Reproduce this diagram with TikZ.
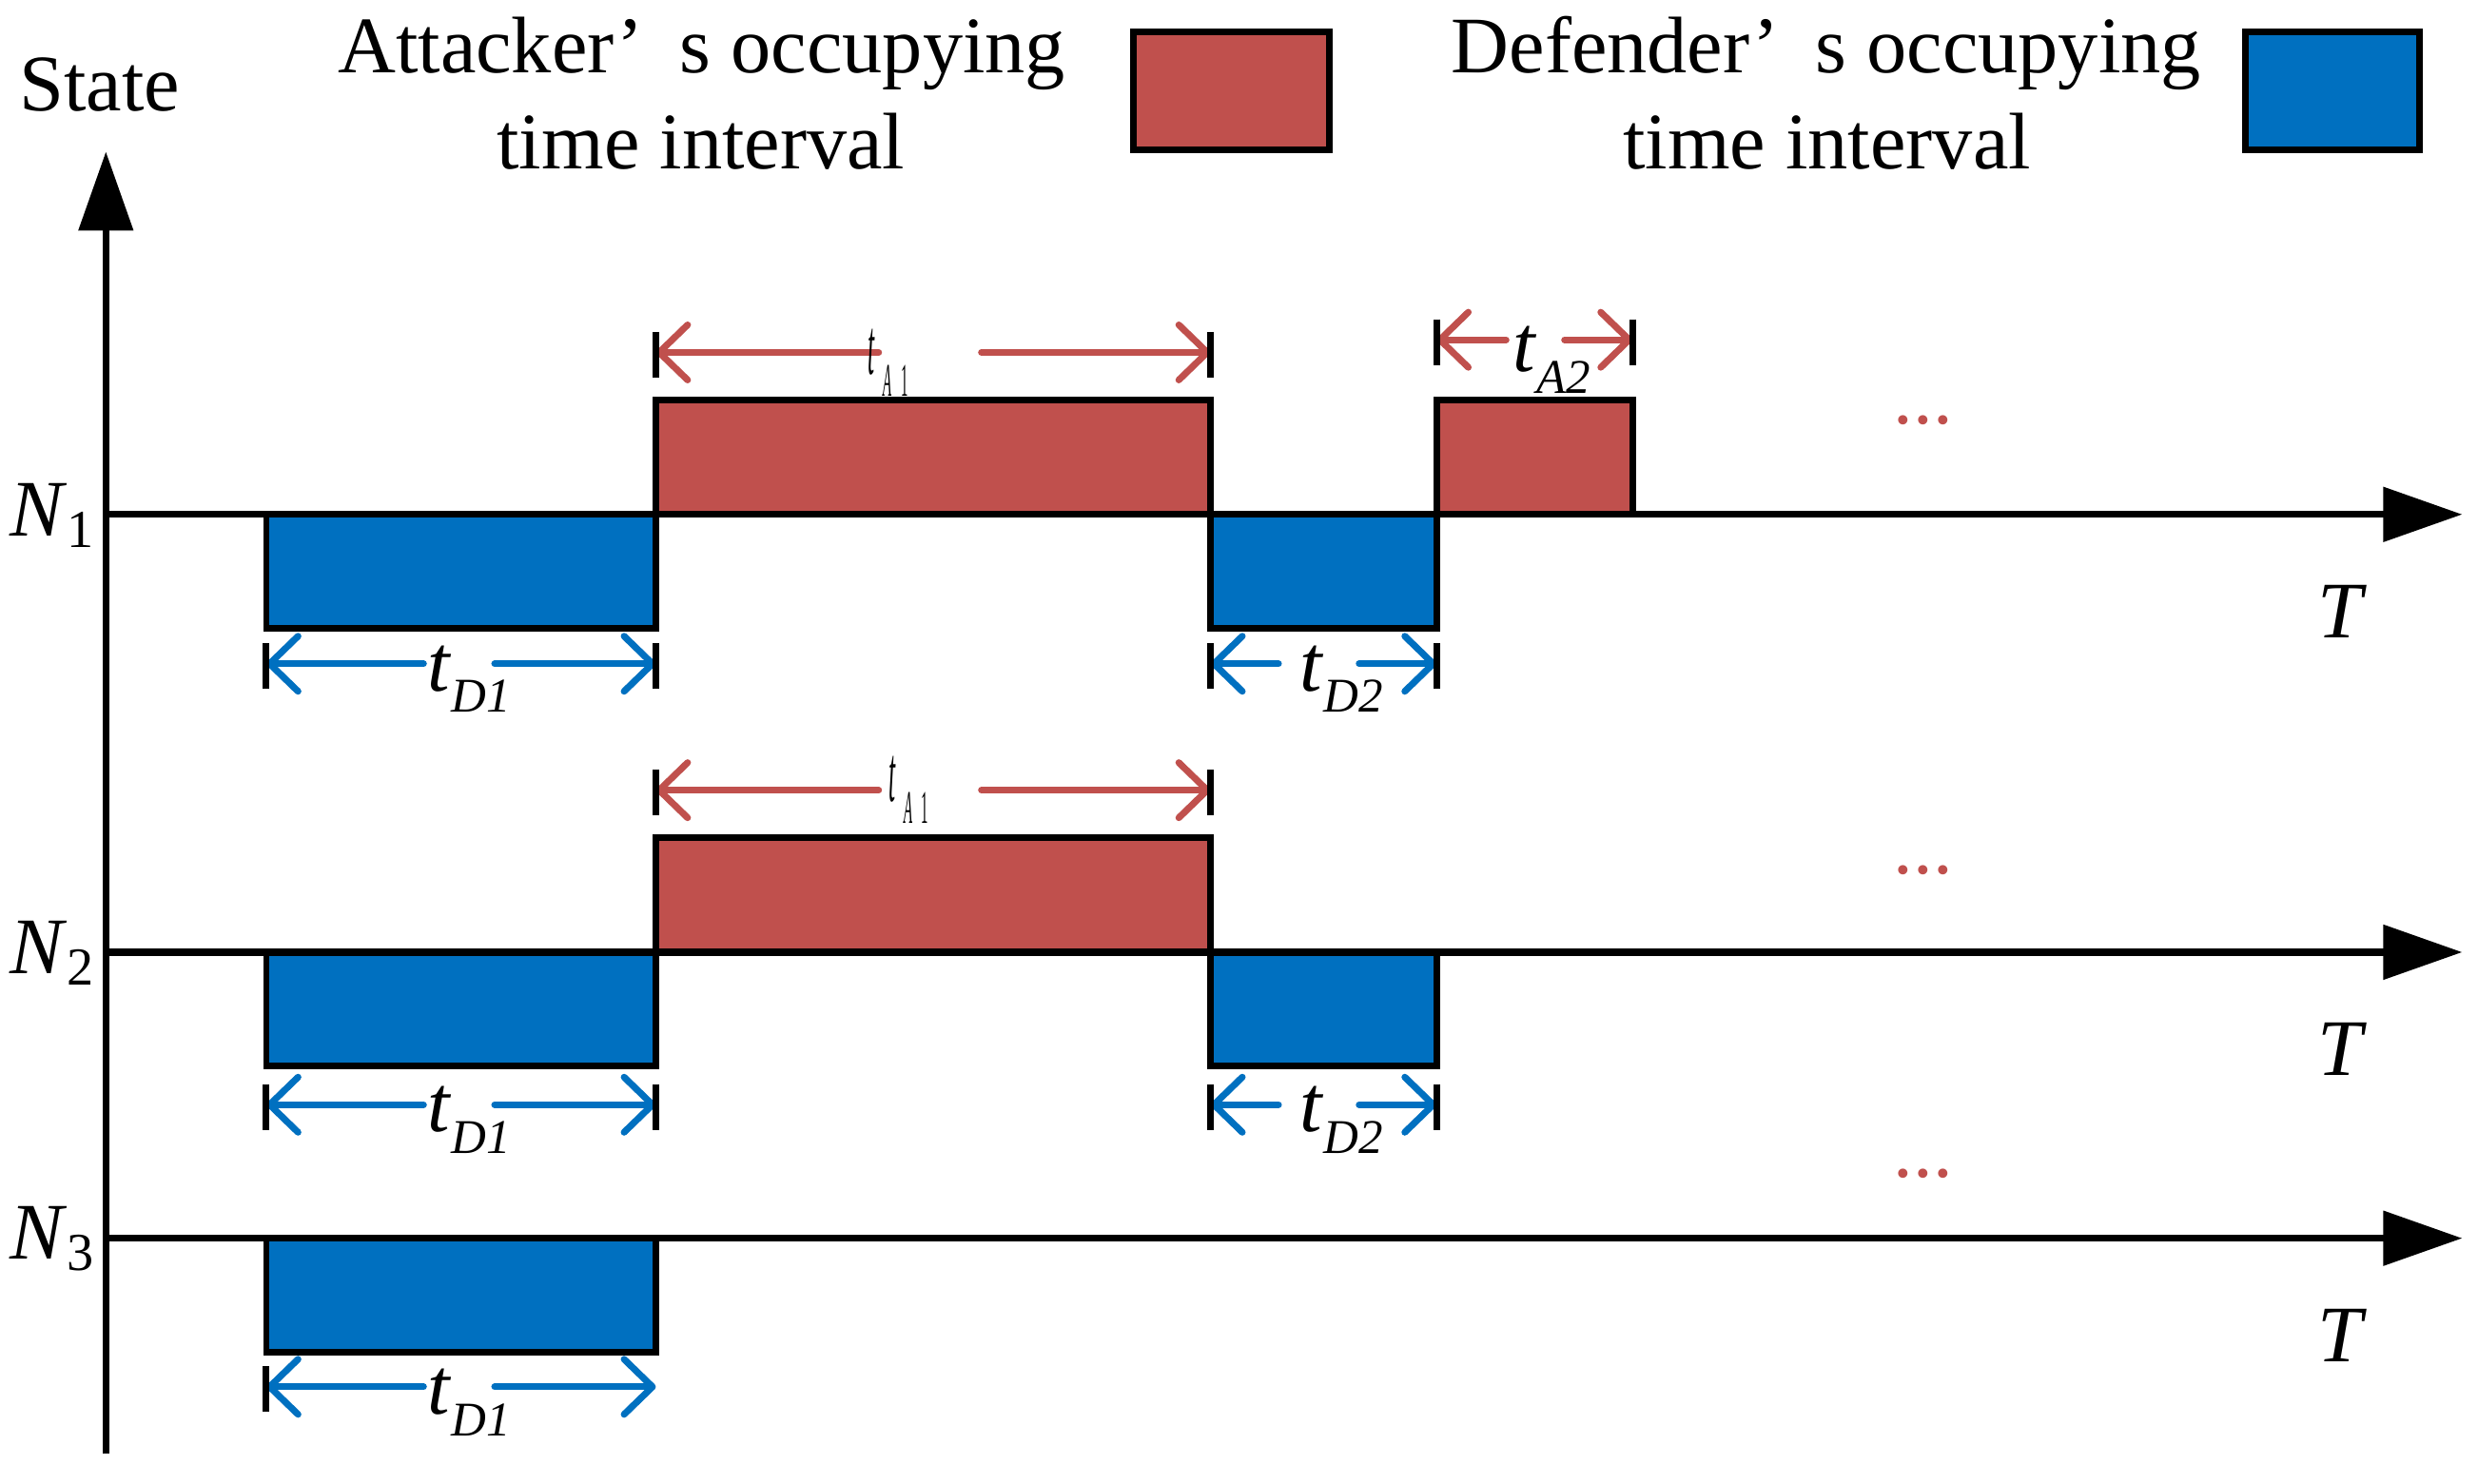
\documentclass[tikz,border=0pt]{standalone}
\usepackage{fontspec}
\setmainfont{Liberation Serif}
\usepackage{graphicx}
\usetikzlibrary{arrows.meta}
\definecolor{atk}{RGB}{192,80,77}
\definecolor{dfd}{RGB}{0,112,192}
\newcommand\tsub[1]{\textit{t}\raisebox{-6.5pt}{\fontsize{14.5}{14.5}\selectfont\textit{#1}}}
\newcommand\Nsub[1]{\textit{N}\raisebox{-3.5pt}{\fontsize{16}{16}\selectfont #1}}
\newcommand\tsq{\scalebox{0.3}[1]{\textit{t}\hspace{8pt}\raisebox{-6.5pt}{\fontsize{14}{14}\selectfont\textit{A}\hspace{9pt}1}}}
\newcommand\dimpair[7]{%
  \coordinate (#2L) at (#4,#3); \coordinate (#2R) at (#5,#3);
  \coordinate (#2a) at (#6,#3); \coordinate (#2b) at (#7,#3);
  \draw[#1] (#2a) -- (#2L); \draw[#1] (#2b) -- (#2R);}
\newcommand\tickmk[2]{\draw[endtick] (#1,#2-13) -- (#1,#2+16);}
\begin{document}
\begin{tikzpicture}[x=0.016614cm,y=-0.016614cm,
  axisline/.style={line width=2.1pt,-{Triangle[length=23.6pt,width=16pt]}},
  boxout/.style={draw=black,line width=1.9pt},
  atkbox/.style={boxout,fill=atk},
  dfdbox/.style={boxout,fill=dfd},
  dimA/.style={draw=atk,line width=2pt,line cap=round,-{Straight Barb[length=8.5pt,width=16.5pt,round]}},
  dimD/.style={draw=dfd,line width=2pt,line cap=round,-{Straight Barb[length=8.5pt,width=16.5pt,round]}},
  endtick/.style={draw=black,line width=2pt},
  lbl/.style={inner sep=0pt,anchor=base west,font=\fontsize{24}{28}\selectfont},
  leg/.style={inner sep=0pt,anchor=base,font=\fontsize{24}{28}\selectfont},
  dots/.style={inner sep=0pt,anchor=base,text=atk,font=\fontsize{23.5}{28}\selectfont},
]
\useasboundingbox (0,0) rectangle (1568,939);

% legend
\node[leg] (atk1) at (444,46) {Attacker’\hspace{0.45em}s occupying};
\node[leg] (atk2) at (443.5,107) {time interval};
\draw[atkbox] (717,20) rectangle (841,95);
\node[leg] (dfd1) at (1155.5,46) {Defender’\hspace{0.45em}s occupying};
\node[leg] (dfd2) at (1156,107) {time interval};
\draw[dfdbox] (1421,20) rectangle (1531,95);
\node[lbl] (state) at (12,70) {State};

% N1 boxes
\draw[dfdbox] (168.5,325.5) rectangle (415,397.5);
\draw[atkbox] (415,253) rectangle (766,325.5);
\draw[dfdbox] (766,325.5) rectangle (909,397.5);
\draw[atkbox] (909,253) rectangle (1033,325.5);
% N2 boxes
\draw[dfdbox] (168.5,602.5) rectangle (415,674.5);
\draw[atkbox] (415,530) rectangle (766,602.5);
\draw[dfdbox] (766,602.5) rectangle (909,674.5);
% N3 boxes
\draw[dfdbox] (168.5,783.5) rectangle (415,855.5);

% axes
\coordinate (origin) at (67,920);
\coordinate (ytop) at (67,96);
\draw[axisline] (origin) -- (ytop);
\coordinate (a1s) at (67,325.5); \coordinate (a1e) at (1558,325.5);
\coordinate (a2s) at (67,602.5); \coordinate (a2e) at (1558,602.5);
\coordinate (a3s) at (67,783.5); \coordinate (a3e) at (1558,783.5);
\draw[axisline] (a1s) -- (a1e);
\draw[axisline] (a2s) -- (a2e);
\draw[axisline] (a3s) -- (a3e);

% axis labels
\node[lbl] (n1) at (6,339) {\Nsub{1}};
\node[lbl] (n2) at (6,616) {\Nsub{2}};
\node[lbl] (n3) at (6,796.5) {\Nsub{3}};
\node[lbl] (t1) at (1466,403.5) {\textit{T}};
\node[lbl] (t2) at (1466,680.5) {\textit{T}};
\node[lbl] (t3) at (1466,861.5) {\textit{T}};
\node[dots] (dots1) at (1217,268) {...};
\node[dots] (dots2) at (1217,553) {...};
\node[dots] (dots3) at (1217,745) {...};

% N1 dimension arrows
\dimpair{dimA}{ea}{223}{415}{766}{556}{621}
\tickmk{415}{223}\tickmk{766}{223}
\node[lbl] (la1) at (549,237) {\tsq};
\dimpair{dimA}{eb}{215}{909}{1033}{953}{990}
\tickmk{909}{215}\tickmk{1033}{215}
\node[lbl] (la2) at (957,235) {\tsub{A2}};
\dimpair{dimD}{ec}{420}{168.5}{415}{268}{313}
\tickmk{168.5}{420}\tickmk{415}{420}
\node[lbl] (ld1) at (270,437) {\tsub{D1}};
\dimpair{dimD}{ed}{420}{766}{909}{809}{860}
\tickmk{766}{420}\tickmk{909}{420}
\node[lbl] (ld2) at (822,437) {\tsub{D2}};

% N2 dimension arrows
\dimpair{dimA}{fa}{500}{415}{766}{556}{621}
\tickmk{415}{500}\tickmk{766}{500}
\node[lbl] (ma1) at (562,507) {\tsq};
\dimpair{dimD}{fc}{699}{168.5}{415}{268}{313}
\tickmk{168.5}{699}\tickmk{415}{699}
\node[lbl] (md1) at (270,716) {\tsub{D1}};
\dimpair{dimD}{fd}{699}{766}{909}{809}{860}
\tickmk{766}{699}\tickmk{909}{699}
\node[lbl] (md2) at (822,716) {\tsub{D2}};

% N3 dimension arrow
\dimpair{dimD}{gc}{877.5}{168.5}{415}{268}{313}
\tickmk{168.5}{877.5}
\node[lbl] (nd1) at (270,895) {\tsub{D1}};
\end{tikzpicture}
\end{document}
